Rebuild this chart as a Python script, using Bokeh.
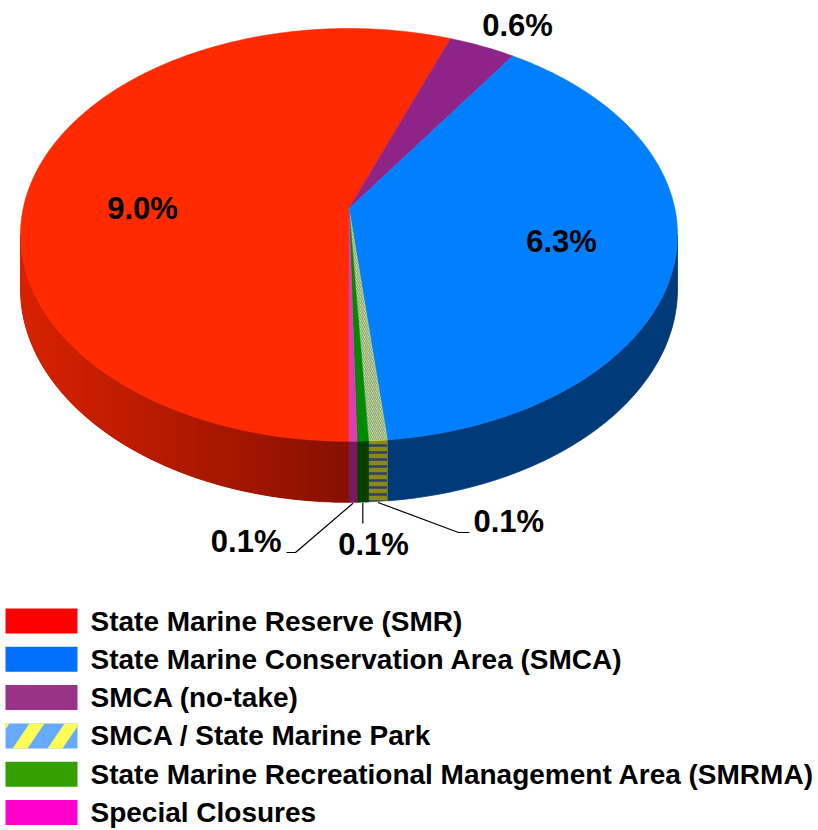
import math
from bokeh.plotting import figure
from bokeh.models import Range1d
from bokeh.embed import file_html
from bokeh.resources import INLINE
from bokeh.core.properties import value

# ---------------- data ----------------
categories = [
    "State Marine Reserve (SMR)",
    "State Marine Conservation Area (SMCA)",
    "SMCA (no-take)",
    "SMCA / State Marine Park",
    "State Marine Recreational Management Area (SMRMA)",
    "Special Closures",
]
percent = [9.0, 6.3, 0.6, 0.13, 0.08, 0.055]
pct_labels = ["9.0%", "6.3%", "0.6%", "0.1%", "0.1%", "0.1%"]
# clockwise drawing order of the slices, starting at the front (6 o'clock)
pie_order = [0, 2, 1, 3, 4, 5]

# ---------------- styles ----------------
top_colors = ["#ff2a00", "#0080ff", "#8e2388", "#d6d848", "#008a00", "#e03cb2"]
wall_dark = ["#861000", "#003a78", "#4a1045", "#8c8a14", "#004000", "#7a1a5e"]
wall_light = ["#d82200", "#003a78", "#4a1045", "#8c8a14", "#004000", "#7a1a5e"]
legend_colors = ["#ff0000", "#0070ff", "#993388", "#66aaff", "#33a000", "#ff00cc"]

# ---------------- geometry (layout) ----------------
CX, VY = 348.5, 208.0     # screen position of the pie centre (apex)
A, D, K = 325.8, 203.0, -0.128
H0 = 53.2                 # depth of the slab
FONT = value("Liberation Sans")

W, H = 818, 830
p = figure(width=W, height=H, output_backend="svg", toolbar_location=None,
           x_range=Range1d(0, W), y_range=Range1d(H, 0),
           min_border=0, border_fill_color="white", background_fill_color="white")
p.axis.visible = False
p.grid.visible = False
p.outline_line_color = None


def proj(theta_deg, r=1.0, z=0.0):
    t = math.radians(theta_deg)
    u = r * math.sin(t)
    v = -r * math.cos(t)
    w = 1 + K * v
    return CX + A * u / w, VY + (D * v + H0 * z) / w


total = sum(percent)
spans = {}
start = 180.0
for i in pie_order:
    sweep = percent[i] / total * 360.0
    spans[i] = (start, start + sweep)
    start += sweep

vis_lo = math.degrees(math.acos(K))          # right silhouette
vis_hi = 360.0 - vis_lo                       # left silhouette


def lerp_color(c1, c2, f):
    a = [int(c1[j:j + 2], 16) for j in (1, 3, 5)]
    b = [int(c2[j:j + 2], 16) for j in (1, 3, 5)]
    return "#%02x%02x%02x" % tuple(int(round(a[j] + (b[j] - a[j]) * f)) for j in range(3))


def wall_poly(t0, t1, steps=6):
    ts = [t0 + (t1 - t0) * m / steps for m in range(steps + 1)]
    top = [proj(t) for t in ts]
    bot = [proj(t, z=1.0) for t in reversed(ts)]
    return [q[0] for q in top + bot], [q[1] for q in top + bot]


def clip_rect(poly, x0, x1, y0, y1):
    """Sutherland-Hodgman clip of a polygon to an axis-aligned rectangle."""
    def clip(pts, inside, inter):
        out = []
        for j in range(len(pts)):
            cur, prev = pts[j], pts[j - 1]
            if inside(cur):
                if not inside(prev):
                    out.append(inter(prev, cur))
                out.append(cur)
            elif inside(prev):
                out.append(inter(prev, cur))
        return out

    def ix(xv):
        return lambda a, b: (xv, a[1] + (b[1] - a[1]) * (xv - a[0]) / (b[0] - a[0]))

    def iy(yv):
        return lambda a, b: (a[0] + (b[0] - a[0]) * (yv - a[1]) / (b[1] - a[1]), yv)

    pts = poly
    pts = clip(pts, lambda q: q[0] >= x0, ix(x0)) if pts else pts
    pts = clip(pts, lambda q: q[0] <= x1, ix(x1)) if pts else pts
    pts = clip(pts, lambda q: q[1] >= y0, iy(y0)) if pts else pts
    pts = clip(pts, lambda q: q[1] <= y1, iy(y1)) if pts else pts
    return pts


# ---------------- side walls ----------------
for i in pie_order:
    s, e = spans[i]
    for shift in (0.0, -360.0):
        a0, a1 = max(s + shift, vis_lo), min(e + shift, vis_hi)
        if a1 <= a0:
            continue
        xs, ys = wall_poly(a0, a1, steps=max(2, int(a1 - a0)))
        if i == 3:
            p.patch(xs, ys, fill_color=wall_dark[3], line_color=wall_dark[3],
                    line_width=0.5, hatch_pattern="horizontal_line", hatch_color="#2c3e6e",
                    hatch_weight=2.5, hatch_scale=7)
            continue
        base = lerp_color(wall_dark[i], wall_light[i], 0.5)
        p.patch(xs, ys, fill_color=base, line_color=base, line_width=0.8)
        if wall_dark[i] != wall_light[i]:
            n = max(1, int((a1 - a0) / 2.0))
            gx, gy, gc = [], [], []
            for k in range(n):
                t0 = a0 + (a1 - a0) * k / n
                t1 = a0 + (a1 - a0) * (k + 1) / n + (a1 - a0) / n * 0.3
                t1 = min(t1, a1)
                sx, sy = wall_poly(t0, t1, steps=3)
                xm = proj((t0 + t1) / 2)[0]
                f = min(1.0, max(0.0, (CX - xm) / (CX - 20.0)))
                gx.append(sx)
                gy.append(sy)
                gc.append(lerp_color(wall_dark[i], wall_light[i], f))
            p.patches(gx, gy, fill_color=gc, line_color=None)

# ---------------- top faces ----------------
for i in pie_order:
    s, e = spans[i]
    n = max(3, int((e - s) / 1.0))
    pts = [(CX, VY)] + [proj(s + (e - s) * m / n) for m in range(n + 1)]
    xs = [q[0] for q in pts]
    ys = [q[1] for q in pts]
    if i == 3:
        p.patch(xs, ys, fill_color=top_colors[i], line_color=top_colors[i], line_width=0.4,
                hatch_pattern="right_diagonal_line", hatch_color="#6e9fd8",
                hatch_weight=1, hatch_scale=4)
    else:
        p.patch(xs, ys, fill_color=top_colors[i], line_color=top_colors[i], line_width=0.6)

# ---------------- data labels ----------------
LBL = "31px"
label_pos = {0: (142, 208), 1: (561, 241), 2: (517, 25)}
for i, (lx, ly) in label_pos.items():
    p.text([lx], [ly], text=[pct_labels[i]], text_font=FONT, text_font_style="bold",
           text_font_size=LBL, text_align="center", text_baseline="middle",
           text_color="black")

# leader lines for the small slices (start at bottom of the wall at slice middle)
leaders = {
    5: [(295, 552), (286, 552)],
    4: [(None, 523)],
    3: [(458, 532), (469, 532)],
}
small_text = {5: (281, 541, "right"), 4: (373, 544, "center"), 3: (473, 521, "left")}
for i in (5, 4, 3):
    s, e = spans[i]
    x0, y0 = proj((s + e) / 2, z=1.0)
    pts = [(x0, y0 + 1)]
    for (lx, ly) in leaders[i]:
        pts.append((x0 if lx is None else lx, ly))
    p.line([q[0] for q in pts], [q[1] for q in pts], line_color="black", line_width=1.2)
    tx, ty, al = small_text[i]
    p.text([tx], [ty], text=[pct_labels[i]], text_font=FONT, text_font_style="bold",
           text_font_size=LBL, text_align=al, text_baseline="middle", text_color="black")

# ---------------- legend ----------------
row0, pitch = 620.5, 38.3
SW_L, SW_R, SW_H = 5, 77, 12.5
for r, i in enumerate(range(len(categories))):
    yc = row0 + r * pitch
    p.quad(left=[SW_L], right=[SW_R], top=[yc - SW_H], bottom=[yc + SW_H],
           fill_color=legend_colors[i], line_color=None)
    if i == 3:
        # wide yellow diagonal bands on the light-blue swatch
        bx, by = [], []
        yt, yb = yc - SW_H, yc + SW_H
        for off in (-28, 7, 42, 77):
            band = [(SW_L + off, yb), (SW_L + off + 15, yb),
                    (SW_L + off + 32, yt), (SW_L + off + 17, yt)]
            cl = clip_rect(band, SW_L, SW_R, yt, yb)
            if len(cl) >= 3:
                bx.append([q[0] for q in cl])
                by.append([q[1] for q in cl])
        p.patches(bx, by, fill_color="#ffff55", line_color=None)
    p.text([90], [yc], text=[categories[i]], text_font=FONT, text_font_style="bold",
           text_font_size="28px", text_align="left", text_baseline="middle",
           text_color="black")

open("out.html", "w").write(file_html(p, INLINE))
